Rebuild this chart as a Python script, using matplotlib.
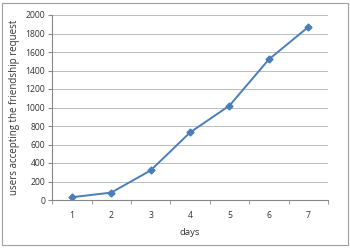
import matplotlib
matplotlib.use("Agg")
import matplotlib.pyplot as plt
from matplotlib.patches import Rectangle

days = [1, 2, 3, 4, 5, 6, 7]
users = [30, 80, 320, 730, 1020, 1520, 1870]
yticks = [0, 200, 400, 600, 800, 1000, 1200, 1400, 1600, 1800, 2000]

plt.rcParams['font.family'] = ['Open Sans', 'DejaVu Sans']
fig = plt.figure(figsize=(3.5, 2.5), dpi=100)
fig.patches.append(Rectangle((0.006, 0.02), 0.988, 0.968, transform=fig.transFigure,
                             fill=False, edgecolor='#a0a0a0', linewidth=0.8))
ax = fig.add_axes([0.149, 0.2, 0.788, 0.74])
ax.plot(days, users, color='#4a7ebb', linewidth=1.4, marker='D', markersize=3.5,
        markerfacecolor='#4a7ebb', markeredgecolor='#4a7ebb')
ax.set_xlim(0.5, 7.5)
ax.set_ylim(0, 2000)
ax.set_yticks(yticks)
ax.set_xticks(days)
ax.set_xticks([d + 0.5 for d in [0] + days], minor=True)
ax.tick_params(axis='x', which='major', length=0, pad=8, labelsize=6.2, colors='#333333')
ax.tick_params(axis='x', which='minor', length=3, color='#888888')
ax.tick_params(axis='y', length=3, color='#888888', labelsize=6.2, colors='#333333', pad=2)
ax.tick_params(axis='y', color='#888888')
ax.grid(axis='y', color='#bcbcbc', linewidth=0.7)
ax.set_axisbelow(True)
for s in ['top', 'right']:
    ax.spines[s].set_visible(False)
ax.spines['left'].set_color('#888888')
ax.spines['bottom'].set_color('#888888')
ax.spines['left'].set_linewidth(0.8)
ax.spines['bottom'].set_linewidth(0.8)
ax.set_xlabel('days', fontsize=6.8, color='#333333', labelpad=6)
ax.set_ylabel('users accepting the friendship request', fontsize=7, color='#333333', labelpad=4)
fig.savefig('out.png', dpi=100)
